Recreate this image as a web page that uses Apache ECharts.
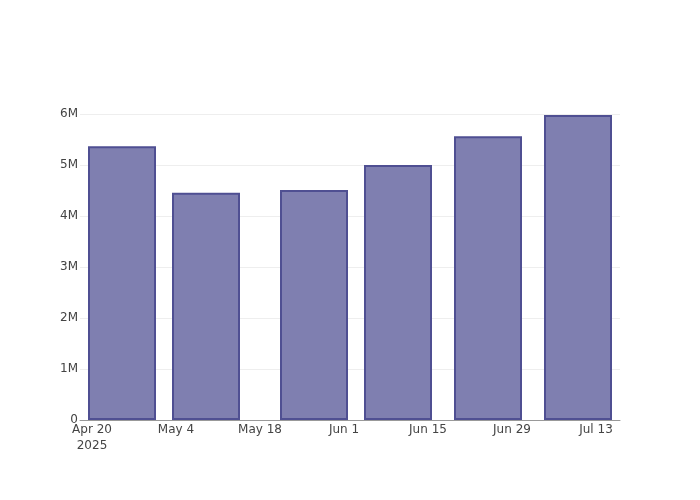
<!DOCTYPE html>
<html>
<head>
<meta charset="utf-8">
<script src="https://cdn.jsdelivr.net/npm/echarts@6/dist/echarts.min.js"></script>
<style>html,body{margin:0;padding:0;background:#fff}#c{width:700px;height:500px}</style>
</head>
<body>
<div id="c"></div>
<script>
var barDates = ['2025-04-25', '2025-05-09', '2025-05-27', '2025-06-10', '2025-06-25', '2025-07-10'];
var barValues = [5370000, 4455000, 4510000, 5000000, 5565000, 5980000];
var tickDates = ['2025-04-20', '2025-05-04', '2025-05-18', '2025-06-01', '2025-06-15', '2025-06-29', '2025-07-13'];
var tickLabels = ['Apr 20\n2025', 'May 4', 'May 18', 'Jun 1', 'Jun 15', 'Jun 29', 'Jul 13'];
var xRange = ['2025-04-18', '2025-07-17'];

function ts(s) { var p = s.split('-'); return Date.UTC(+p[0], +p[1] - 1, +p[2]); }
var tickTs = tickDates.map(ts);

var chart = echarts.init(document.getElementById('c'), null, {renderer: 'canvas'});
chart.setOption({
  animation: false,
  textStyle: {fontFamily: 'DejaVu Sans'},
  grid: {left: 80, right: 80, top: 114, bottom: 80, containLabel: false},
  xAxis: {
    type: 'value',
    min: ts(xRange[0]),
    max: ts(xRange[1]),
    splitLine: {show: false},
    axisLine: {show: true, lineStyle: {color: '#999', width: 1}},
    axisTick: {show: false, customValues: tickTs},
    axisLabel: {
      customValues: tickTs,
      color: '#444', fontSize: 12, margin: 2, lineHeight: 16,
      formatter: function (v) {
        var i = tickTs.indexOf(v);
        return i >= 0 ? tickLabels[i] : '';
      }
    }
  },
  yAxis: {
    type: 'value',
    min: 0, max: 6000000, interval: 1000000,
    axisLine: {show: false},
    axisTick: {show: false},
    splitLine: {lineStyle: {color: '#eee', width: 1}},
    axisLabel: {
      color: '#444', fontSize: 12, margin: 2, padding: [3, 0, 0, 0],
      formatter: function (v) { return v === 0 ? '0' : (v / 1000000) + 'M'; }
    }
  },
  series: [{
    type: 'bar',
    barWidth: 68,
    data: barDates.map(function (d, i) { return [ts(d), barValues[i]]; }),
    itemStyle: {color: '#7f7fb0', borderColor: '#4f4f92', borderWidth: 2}
  }]
});
</script>
</body>
</html>
